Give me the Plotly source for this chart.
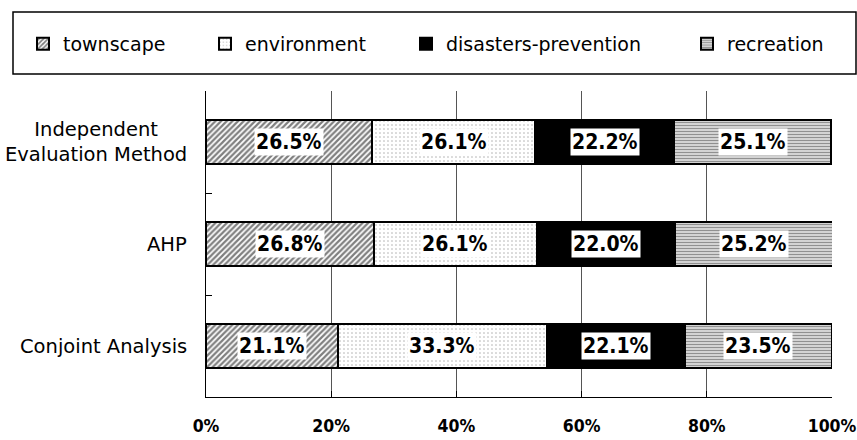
import plotly.graph_objects as go

categories = ["Independent Evaluation Method", "AHP", "Conjoint Analysis"]
category_labels = ["Independent<br>Evaluation Method", "AHP", "Conjoint Analysis"]
series_names = ["townscape", "environment", "disasters-prevention", "recreation"]
townscape = [26.5, 26.8, 21.1]
environment = [26.1, 26.1, 33.3]
disasters_prevention = [22.2, 22.0, 22.1]
recreation = [25.1, 25.2, 23.5]
x_ticks = [0, 20, 40, 60, 80, 100]
x_tick_labels = ["0%", "20%", "40%", "60%", "80%", "100%"]

series_values = [townscape, environment, disasters_prevention, recreation]

W, H = 857, 440
ML, MR, MT, MB = 206, 25, 91, 43
PW = W - ML - MR
PH = H - MT - MB

NARROW = "DejaVu Sans Condensed, Liberation Sans Narrow, Arial Narrow, sans-serif"


def px_x(p):
    return (p - ML) / PW


def px_y(p):
    return (H - MB - p) / PH


styles = [
    dict(color="white", line=dict(color="black", width=2),
         pattern=dict(shape="/", fgcolor="black", bgcolor="white", size=4, solidity=0.55)),
    dict(color="white", line=dict(color="black", width=2),
         pattern=dict(shape=".", fgcolor="#555555", bgcolor="white", size=4, solidity=0.12)),
    dict(color="black", line=dict(color="black", width=2)),
    dict(color="white", line=dict(color="black", width=2),
         pattern=dict(shape="-", fgcolor="#222222", bgcolor="white", size=3, solidity=0.6)),
]

legend_names = ["legend", "legend2", "legend3", "legend4"]
legend_icon_px = [46, 228, 429, 710]

fig = go.Figure()
for name, vals, st, lg in zip(series_names, series_values, styles, legend_names):
    fig.add_trace(go.Bar(
        y=categories, x=vals, name=name, orientation="h",
        marker=st, width=0.43, legend=lg, hoverinfo="x+name",
    ))

# value labels with white background
annotations = []
for ci, cat in enumerate(categories):
    start = 0.0
    for vals in series_values:
        v = vals[ci]
        annotations.append(dict(
            x=start + v / 2, y=cat, xref="x", yref="y",
            text=f"{v:.1f}%", showarrow=False, bgcolor="white", borderpad=1,
            font=dict(family=NARROW, size=21, color="black", weight="bold"),
        ))
        start += v

# category labels
for cat, lab in zip(categories, category_labels):
    annotations.append(dict(
        x=0, y=cat, xref="paper", yref="y", xanchor="right", xshift=-17,
        text=lab, showarrow=False, align="center",
        font=dict(family="DejaVu Sans, sans-serif", size=19.5, color="black"),
    ))

layout_legends = {}
for lg, cx in zip(legend_names, legend_icon_px):
    layout_legends[lg] = dict(
        xref="container", yref="container",
        x=(cx - 23) / W, xanchor="left", y=1 - 44 / H, yanchor="middle",
        orientation="h", bgcolor="rgba(0,0,0,0)", borderwidth=0,
        font=dict(family="DejaVu Sans, sans-serif", size=19, color="black"),
    )

fig.update_layout(
    width=W, height=H,
    margin=dict(l=ML, r=MR, t=MT, b=MB, autoexpand=False),
    paper_bgcolor="white", plot_bgcolor="white",
    barmode="stack",
    showlegend=True,
    annotations=annotations,
    shapes=[dict(type="rect", xref="paper", yref="paper",
                 x0=px_x(13), x1=px_x(856), y0=px_y(74), y1=px_y(12),
                 line=dict(color="black", width=1.5), fillcolor="rgba(0,0,0,0)", layer="above")],
    **layout_legends,
)

fig.update_xaxes(
    range=[0, 100], tickvals=x_ticks, ticktext=x_tick_labels,
    showgrid=True, gridcolor="#555555", gridwidth=1,
    showline=True, linecolor="black", linewidth=1,
    ticks="inside", ticklen=6, tickcolor="black",
    ticklabelstandoff=13, ticklabeloverflow="allow", zeroline=False,
    tickfont=dict(family=NARROW, size=17.5, color="black", weight="bold"),
    fixedrange=True,
)
fig.update_yaxes(
    type="category", categoryorder="array", categoryarray=categories,
    autorange="reversed", showticklabels=False,
    showline=True, linecolor="black", linewidth=1,
    ticks="inside", tickson="boundaries", ticklen=6, tickcolor="black",
    showgrid=False, fixedrange=True,
)

fig.write_html("out.html")
